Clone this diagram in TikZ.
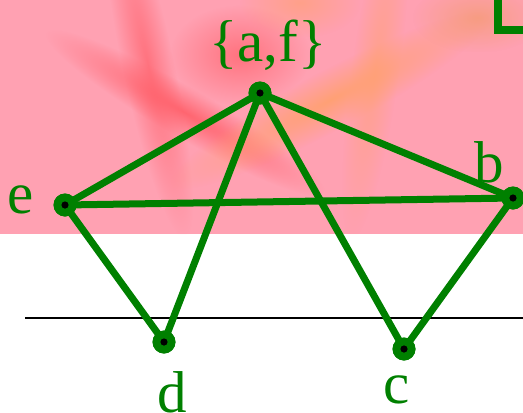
\documentclass[tikz,border=0pt]{standalone}
\usepackage{fontspec}
\setmainfont{Liberation Serif}
\usetikzlibrary{fadings}
\tikzfading[name=softblob, inner color=transparent!0, outer color=transparent!100]
\definecolor{bgpink}{RGB}{255,161,178}
\definecolor{gr}{RGB}{0,128,0}
\definecolor{redstreak}{RGB}{255,95,105}
\definecolor{orstreak}{RGB}{255,160,110}
\begin{document}
\begin{tikzpicture}[x=1pt,y=-1pt,
  vert/.style={circle,fill=gr,minimum size=23pt,inner sep=0pt,
    path picture={\fill[black] (path picture bounding box.center) circle (3.6pt);}},
  edge/.style={draw=gr,line width=7pt},
  lbl/.style={text=gr,anchor=base,inner sep=0pt,font=\fontsize{59}{70}\selectfont},
  blob/.style={path fading=softblob,fill opacity=#1}]
\useasboundingbox (0,0) rectangle (523,413);
% background
\fill[bgpink] (0,0) rectangle (523,234);
\begin{scope}
\clip (0,0) rectangle (523,234);
\begin{scope}[transform canvas={rotate around={-30:(185,112.5)}}]
\fill[redstreak,blob=0.9] (25,87.5) rectangle (345,137.5);
\end{scope}
\begin{scope}[transform canvas={rotate around={-78:(148,65)}}]
\fill[redstreak,blob=0.7] (-28,39) rectangle (324,91);
\end{scope}
\fill[redstreak,blob=0.7] (170,5) rectangle (310,105);
\begin{scope}[transform canvas={rotate around={28:(330,100)}}]
\fill[orstreak,blob=0.9] (150,70) rectangle (510,130);
\end{scope}
\begin{scope}[transform canvas={rotate around={82:(375,70)}}]
\fill[orstreak,blob=0.55] (205,46) rectangle (545,94);
\end{scope}
\fill[orstreak!80!brown,blob=0.6] (412.5,-17.5) rectangle (542.5,52.5);
\fill[orstreak,blob=0.6] (240,-32.5) rectangle (360,37.5);
\end{scope}
% L mark
\draw[gr,line width=8pt,line join=miter] (498,-2) -- (498,29.5) -- (525,29.5);
% horizontal line
\coordinate (hl) at (25,318);
\coordinate (hr) at (523,318);
\draw[black,line width=2pt] (hl) -- (hr);
% vertices
\node[vert] (af) at (260,93) {};
\node[vert] (e) at (65,205) {};
\node[vert] (b) at (513,198) {};
\node[vert] (d) at (164,342) {};
\node[vert] (c) at (404,349) {};
% edges
\draw[edge] (af.center) -- (e.center);
\draw[edge] (af.center) -- (b.center);
\draw[edge] (af.center) -- (d.center);
\draw[edge] (af.center) -- (c.center);
\draw[edge] (e.center) -- (b.center);
\draw[edge] (e.center) -- (d.center);
\draw[edge] (b.center) -- (c.center);
% redraw vertices on top
\node[vert] at (af) {};
\node[vert] at (e) {};
\node[vert] at (b) {};
\node[vert] at (d) {};
\node[vert] at (c) {};
% labels
\node[lbl] (laf) at (268,61) {\{a,f\}};
\node[lbl] (le) at (21,213) {e};
\node[lbl] (lb) at (489,182) {b};
\node[lbl] (ld) at (172,412) {d};
\node[lbl] (lc) at (397,403) {c};
\end{tikzpicture}
\end{document}
